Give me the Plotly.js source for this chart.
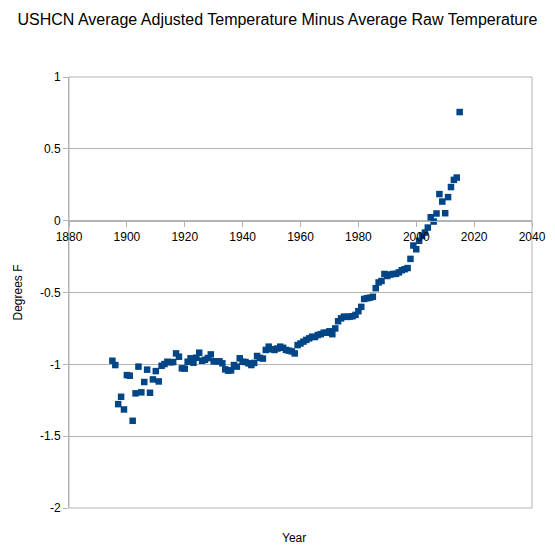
<!DOCTYPE html>
<html>
<head>
<meta charset="utf-8">
<script src="https://cdn.plot.ly/plotly-3.0.1.min.js"></script>
<style>html,body{margin:0;padding:0;background:#fff;}#chart{width:555px;height:550px;}</style>
</head>
<body>
<div id="chart"></div>
<script>
var years = [];
for (var y = 1895; y <= 2015; y++) years.push(y);
var diffF = [
 -0.975,-1.005,-1.277,-1.226,-1.314,-1.075,-1.079,-1.393,-1.202,-1.016,
 -1.195,-1.123,-1.037,-1.198,-1.105,-1.047,-1.119,-1.010,-0.998,-0.982,
 -0.986,-0.984,-0.924,-0.947,-1.028,-1.030,-0.982,-0.958,-0.989,-0.954,
 -0.919,-0.975,-0.968,-0.956,-0.931,-0.979,-0.979,-0.979,-0.993,-1.035,
 -1.044,-1.042,-1.005,-1.016,-0.958,-0.982,-0.984,-0.993,-1.005,-0.990,
 -0.942,-0.955,-0.960,-0.900,-0.877,-0.895,-0.900,-0.890,-0.877,-0.885,
 -0.900,-0.905,-0.910,-0.924,-0.866,-0.855,-0.842,-0.830,-0.819,-0.808,
 -0.810,-0.796,-0.790,-0.780,-0.780,-0.770,-0.790,-0.750,-0.700,-0.680,
 -0.668,-0.670,-0.668,-0.665,-0.656,-0.630,-0.600,-0.545,-0.540,-0.536,
 -0.530,-0.470,-0.430,-0.420,-0.371,-0.385,-0.375,-0.371,-0.370,-0.360,
 -0.345,-0.338,-0.330,-0.266,-0.173,-0.199,-0.140,-0.106,-0.083,-0.048,
  0.024,-0.006, 0.050, 0.185, 0.133, 0.052, 0.164, 0.234, 0.284, 0.300,
  0.756
];
var xTicks = [1880,1900,1920,1940,1960,1980,2000,2020,2040];
var yTicks = [-2,-1.5,-1,-0.5,0,0.5,1];
var yTickText = ['-2','-1.5','-1','-0.5','0','0.5','1'];

var gridC = '#b3b3b3';
var fontFam = '"Liberation Sans", Arial, sans-serif';

var trace = {
  x: years, y: diffF, type: 'scatter', mode: 'markers',
  marker: {symbol: 'square', size: 6.5, color: '#004586'},
  hoverinfo: 'x+y'
};

var layout = {
  width: 555, height: 550,
  margin: {l: 69, r: 23, t: 77, b: 42},
  paper_bgcolor: '#fff', plot_bgcolor: '#fff',
  font: {family: fontFam, size: 12, color: '#000'},
  showlegend: false,
  title: {text: 'USHCN Average Adjusted Temperature Minus Average Raw Temperature',
          font: {family: fontFam, size: 16, color: '#000'},
          x: 0.5, xanchor: 'center', y: 0.965, yanchor: 'middle'},
  xaxis: {
    range: [1880, 2040], tickvals: xTicks, ticktext: xTicks.map(String),
    showgrid: false, zeroline: false,
    showline: true, linecolor: gridC, linewidth: 1,
    ticks: 'outside', ticklen: 5, tickcolor: gridC,
    anchor: 'free', position: 2/3,
    tickfont: {family: fontFam, size: 12, color: '#000'}
  },
  yaxis: {
    range: [-2, 1], tickvals: yTicks, ticktext: yTickText,
    showgrid: true, gridcolor: gridC, zeroline: false,
    showline: true, linecolor: gridC, linewidth: 1,
    ticks: 'outside', ticklen: 5, tickcolor: gridC,
    tickfont: {family: fontFam, size: 12, color: '#000'},
    title: {text: 'Degrees F', font: {family: fontFam, size: 12, color: '#000'}, standoff: 14}
  },
  shapes: [{type: 'rect', xref: 'paper', yref: 'paper', x0: 0, x1: 1, y0: 0, y1: 1,
            line: {color: gridC, width: 1}, layer: 'below'}],
  annotations: [{text: 'Year', xref: 'paper', yref: 'paper', x: 0.485, y: -0.07,
                 xanchor: 'center', yanchor: 'middle', showarrow: false,
                 font: {family: fontFam, size: 12, color: '#000'}}]
};

Plotly.newPlot('chart', [trace], layout, {staticPlot: true, displayModeBar: false});
</script>
</body>
</html>
